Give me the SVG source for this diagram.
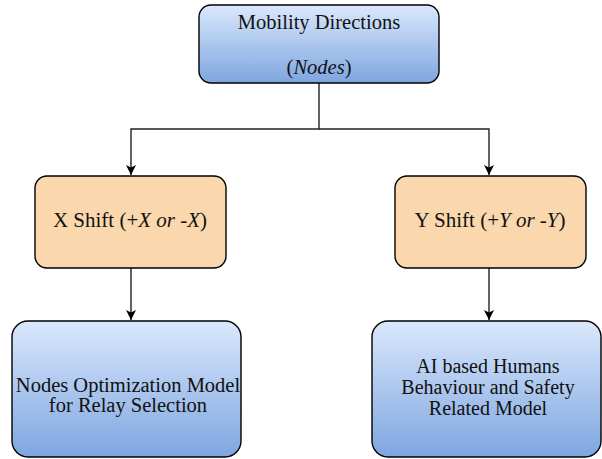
<svg xmlns="http://www.w3.org/2000/svg" width="602" height="459" viewBox="0 0 602 459">
  <style>
    .box { stroke: #000; stroke-width: 1.4; }
    .blue { fill: url(#blueGrad); }
    .orange { fill: #fad7ac; }
    .lbl { font-family: 'Liberation Serif', 'Times New Roman', serif; font-size: 20.5px; fill: #111; text-anchor: middle; }
    .big { font-size: 21px; }
    .small { font-size: 20px; }
    .it { font-style: italic; }
    .edge { fill: none; stroke: #222; stroke-width: 1.4; }
  </style>
  <defs>
    <linearGradient id="blueGrad" x1="0" y1="0" x2="0" y2="1">
      <stop offset="0" stop-color="#dae8fc"/>
      <stop offset="1" stop-color="#7ea6e0"/>
    </linearGradient>
    <marker id="arrow" viewBox="0 0 10 10" refX="10" refY="5" markerWidth="10" markerHeight="10" markerUnits="userSpaceOnUse" orient="auto">
      <path d="M0,0 L10,5 L0,10 L2.5,5 Z" fill="#000"/>
    </marker>
  </defs>

  <rect width="602" height="459" fill="#fff"/>

  <!-- connectors -->
  <g id="connectors">
    <path class="edge" d="M319,83 V129 H131 V175" marker-end="url(#arrow)"/>
    <path class="edge" d="M319,129 H489 V175" marker-end="url(#arrow)"/>
    <path class="edge" d="M131,268 V320" marker-end="url(#arrow)"/>
    <path class="edge" d="M489,268 V320" marker-end="url(#arrow)"/>
  </g>

  <!-- root node -->
  <g id="mobility">
    <rect class="box blue" x="199" y="5" width="240" height="78" rx="12"/>
    <text class="lbl" x="319" y="29">Mobility Directions</text>
    <text class="lbl" x="319" y="74">(<tspan class="it">Nodes</tspan>)</text>
  </g>

  <!-- shift nodes -->
  <g id="xshift">
    <rect class="box orange" x="35" y="176" width="191" height="92" rx="12"/>
    <text class="lbl big" x="130" y="227">X Shift (+<tspan class="it">X or -X</tspan>)</text>
  </g>
  <g id="yshift">
    <rect class="box orange" x="395" y="176" width="191" height="92" rx="12"/>
    <text class="lbl big" x="490" y="227">Y Shift (+<tspan class="it">Y or -Y</tspan>)</text>
  </g>

  <!-- model nodes -->
  <g id="relay">
    <rect class="box blue" x="12" y="321" width="229" height="136" rx="16"/>
    <text class="lbl" x="128" y="392">Nodes Optimization Model</text>
    <text class="lbl" x="128" y="412">for Relay Selection</text>
  </g>
  <g id="safety">
    <rect class="box blue" x="372" y="321" width="229" height="136" rx="16"/>
    <text class="lbl small" x="488" y="373">AI based Humans</text>
    <text class="lbl small" x="488" y="394">Behaviour and Safety</text>
    <text class="lbl small" x="488" y="415">Related Model</text>
  </g>
</svg>
